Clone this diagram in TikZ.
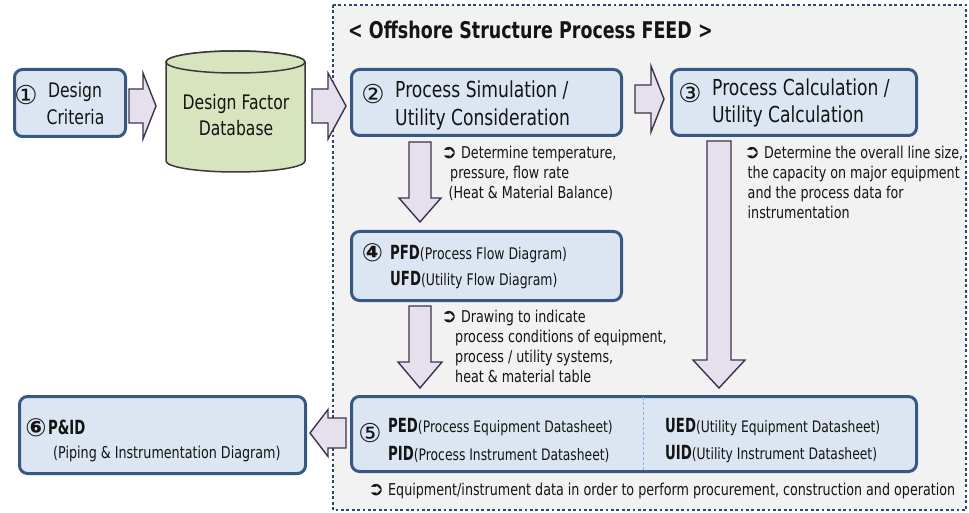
\documentclass[tikz,border=0pt]{standalone}
\usepackage{fontspec}
\setmainfont{DejaVu Sans}[FakeStretch=0.78]
\newfontfamily\titlefont{DejaVu Sans}[FakeStretch=0.76]
\newfontfamily\codefont{DejaVu Sans}[FakeStretch=0.68]
\newfontfamily\symfont{DejaVu Sans}
\definecolor{boxfill}{HTML}{DCE6F2}
\definecolor{boxline}{HTML}{385884}
\definecolor{arrfill}{HTML}{E5E0EC}
\definecolor{arrline}{HTML}{3F3151}
\definecolor{dbfill}{HTML}{D7E4BD}
\definecolor{dbline}{HTML}{3A3A3A}
\definecolor{feedbg}{HTML}{F2F2F2}
\definecolor{feedline}{HTML}{2C4673}
\definecolor{divline}{HTML}{8DB3E2}
\definecolor{txtcol}{HTML}{141414}
\newcommand\blkH[6]{\draw[blockarrow] (#1,#4-#5) -- (#2,#4-#5) -- (#2,#4-#6) -- (#3,#4) -- (#2,#4+#6) -- (#2,#4+#5) -- (#1,#4+#5) -- cycle;}
\newcommand\blkV[6]{\draw[blockarrow] (#4-#5,#1) -- (#4-#5,#2) -- (#4-#6,#2) -- (#4,#3) -- (#4+#6,#2) -- (#4+#5,#2) -- (#4+#5,#1) -- cycle;}
\newcommand\bullarrow{{\symfont\fontsize{19}{16}\selectfont ➲}}
\begin{document}
\begin{tikzpicture}[x=1pt,y=-1pt,
  procbox/.style={rectangle, draw=boxline, fill=boxfill, line width=3pt, rounded corners=8pt, inner sep=0pt},
  blockarrow/.style={draw=arrline, fill=arrfill, line width=1.4pt, line join=miter},
  dbstyle/.style={draw=dbline, fill=dbfill, line width=1.5pt},
  feedborder/.style={draw=feedline, line width=2.8pt, dash pattern=on 2.8pt off 2.6pt},
  txt/.style={inner sep=0pt, anchor=base west, text=txtcol},
  ctxt/.style={inner sep=0pt, anchor=base, text=txtcol},
  num/.style={inner sep=0pt, anchor=center, text=txtcol, font=\symfont\fontsize{26}{26}\selectfont},
  bignum/.style={inner sep=0pt, anchor=center, text=txtcol, font=\symfont\bfseries\fontsize{25}{25}\selectfont},
  mainf/.style={font=\fontsize{22}{26}\selectfont},
  midf/.style={font=\fontsize{20}{24}\selectfont},
  smallf/.style={font=\fontsize{16.3}{20}\selectfont},
]
\useasboundingbox (0,0) rectangle (969,513);
\fill[white] (0,0) rectangle (969,513);
% FEED region
\fill[feedbg] (333,5) rectangle (966,510);
\draw[feedborder] (333,5) rectangle (966,510);
\node[txt, font=\titlefont\bfseries\fontsize{23}{27}\selectfont] (title) at (348,38.5) {< Offshore Structure Process FEED >};

% boxes
\node[procbox, minimum width=111pt, minimum height=67pt] (b1) at (70,103) {};
\node[procbox, minimum width=270pt, minimum height=66pt] (b2) at (486.5,102.5) {};
\node[procbox, minimum width=245pt, minimum height=66pt] (b3) at (794,102.5) {};
\node[procbox, minimum width=270pt, minimum height=69pt] (b4) at (486.5,266) {};
\node[procbox, minimum width=565pt, minimum height=75pt] (b5) at (634,434) {};
\node[procbox, minimum width=286pt, minimum height=77pt] (b6) at (162.5,435) {};
\draw[divline, line width=0.9pt, dash pattern=on 3pt off 2pt] (643,397) -- (643,471);

% database cylinder
\draw[dbstyle] (166,62) -- (166,161) arc[start angle=180, end angle=0, x radius=69.5, y radius=11] -- (305,62) arc[start angle=0, end angle=-180, x radius=69.5, y radius=11] -- cycle;
\draw[dbstyle] (235.5,62) ellipse[x radius=69.5, y radius=11];
\node[ctxt, midf] (db1) at (236,109.5) {Design Factor};
\node[ctxt, midf] (db2) at (236,135.5) {Database};

% block arrows
\blkH{129}{143}{156}{106}{17}{33}
\blkH{312}{328}{346}{106}{17}{33}
\blkH{635}{651}{664}{99}{14}{33}
\blkV{142}{198}{222}{420}{11}{21}
\blkV{306}{362}{388}{420}{11}{22}
\blkV{141}{360}{388}{719}{12}{26}
\blkH{346}{328}{310}{433}{15}{23.5}

% box 1
\node[num] (n1) at (26,95) {①};
\node[ctxt, midf] (t1a) at (75,97.5) {Design};
\node[ctxt, midf] (t1b) at (75.5,124.5) {Criteria};

% box 2
\node[num] (n2) at (373,94) {②};
\node[txt, mainf] (t2a) at (395,98) {Process Simulation /};
\node[txt, mainf] (t2b) at (395,126) {Utility Consideration};

% box 3
\node[num] (n3) at (690,93) {③};
\node[txt, mainf] (t3a) at (712,96) {Process Calculation /};
\node[txt, mainf] (t3b) at (712,123) {Utility Calculation};

% box 4
\node[bignum] (n4) at (372.5,253) {④};
\node[txt] (t4a) at (390,259.5) {{\codefont\bfseries\fontsize{19.5}{22}\selectfont PFD}{\fontsize{16}{20}\selectfont(Process Flow Diagram)}};
\node[txt] (t4b) at (390,285.5) {{\codefont\bfseries\fontsize{19.5}{22}\selectfont UFD}{\fontsize{16}{20}\selectfont(Utility Flow Diagram)}};

% box 5
\node[num] (n5) at (370,433) {⑤};
\node[txt] (t5a) at (388,432) {{\codefont\bfseries\fontsize{19.5}{22}\selectfont PED}{\fontsize{15.8}{20}\selectfont(Process Equipment Datasheet)}};
\node[txt] (t5b) at (388,460) {{\codefont\bfseries\fontsize{19.5}{22}\selectfont PID}{\fontsize{15.8}{20}\selectfont(Process Instrument Datasheet)}};
\node[txt] (t5c) at (665,432) {{\codefont\bfseries\fontsize{19.5}{22}\selectfont UED}{\fontsize{15.8}{20}\selectfont(Utility Equipment Datasheet)}};
\node[txt] (t5d) at (665,459) {{\codefont\bfseries\fontsize{19.5}{22}\selectfont UID}{\fontsize{15.8}{20}\selectfont(Utility Instrument Datasheet)}};

% box 6
\node[bignum] (n6) at (36,428) {⑥};
\node[txt, font=\codefont\bfseries\fontsize{19.5}{22}\selectfont] (t6a) at (48,434) {P\&ID};
\node[txt, smallf] (t6b) at (53,458.5) {(Piping \& Instrumentation Diagram)};

% descriptions
\node[txt, smallf] (d1a) at (441,158.5) {\bullarrow\ Determine temperature,};
\node[txt, smallf] (d1b) at (450,178.5) {pressure, flow rate};
\node[txt, smallf] (d1c) at (448.5,198.5) {(Heat \& Material Balance)};

\node[txt, smallf] (d3a) at (744,158.5) {\bullarrow\ Determine the overall line size,};
\node[txt, smallf] (d3b) at (747.5,178.5) {the capacity on major equipment};
\node[txt, smallf] (d3c) at (747.5,198.5) {and the process data for};
\node[txt, smallf] (d3d) at (747.5,218.5) {instrumentation};

\node[txt, smallf] (d2a) at (441,322.5) {\bullarrow\ Drawing to indicate};
\node[txt, smallf] (d2b) at (455,342.5) {process conditions of equipment,};
\node[txt, smallf] (d2c) at (455,362.5) {process / utility systems,};
\node[txt, smallf] (d2d) at (455,382.5) {heat \& material table};

\node[txt, font=\fontsize{16.3}{20}\selectfont] (d5) at (368,495.5) {\bullarrow\ Equipment/instrument data in order to perform procurement, construction and operation};
\end{tikzpicture}
\end{document}
